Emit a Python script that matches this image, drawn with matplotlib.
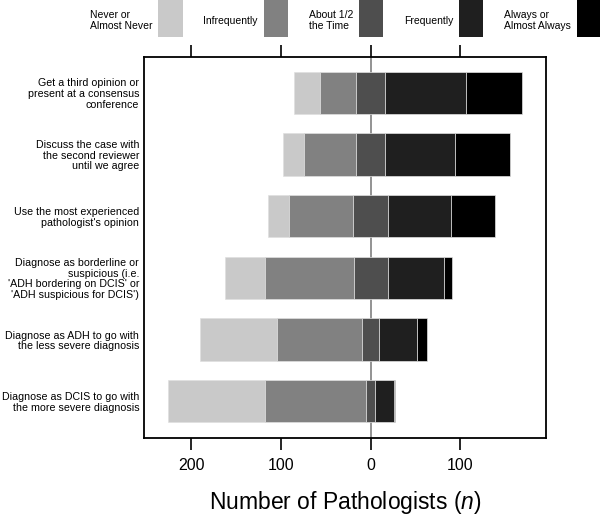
import matplotlib
matplotlib.use('Agg')
import matplotlib.pyplot as plt
import numpy as np
from matplotlib.patches import Patch

plt.rcParams['font.family'] = ['Liberation Sans', 'DejaVu Sans']
plt.rcParams['mathtext.fontset'] = 'custom'
plt.rcParams['mathtext.it'] = 'Liberation Sans:italic'
plt.rcParams['mathtext.rm'] = 'Liberation Sans'

# categories, top to bottom
strategies = [
  'Get a third opinion or\npresent at a consensus\nconference',
  'Discuss the case with\nthe second reviewer\nuntil we agree',
  "Use the most experienced\npathologist's opinion",
  "Diagnose as borderline or\nsuspicious (i.e.\n'ADH bordering on DCIS' or\n'ADH suspicious for DCIS')",
  'Diagnose as ADH to go with\nthe less severe diagnosis',
  'Diagnose as DCIS to go with\nthe more severe diagnosis',
]
responses = ['Never or\nAlmost Never', 'Infrequently', 'About 1/2\nthe Time', 'Frequently', 'Always or\nAlmost Always']
colors = ['#c9c9c9', '#818181', '#4e4e4e', '#1f1f1f', '#000000']

# number of pathologists per response
never = [29, 24, 24, 45, 86, 109]
infrequently = [40, 58, 71, 99, 95, 112]
half = [32, 32, 39, 38, 20, 11]
frequently = [91, 78, 70, 63, 42, 21]
always = [62, 62, 50, 9, 11, 1]

tick_pos = [-200, -100, 0, 100]
tick_lab = ['200', '100', '0', '100']

counts = np.array([never, infrequently, half, frequently, always], dtype=float)
n = len(strategies)
y = np.arange(n)[::-1]

fig = plt.figure(figsize=(6.0, 5.15), dpi=100, facecolor='w')
ax = fig.add_axes([0.24, 0.149, 0.67, 0.7404])

# diverging: centre of the "About 1/2" segment sits on zero
left = -(counts[0] + counts[1] + counts[2] / 2)
for k in range(5):
  ax.barh(y, counts[k], left=left, height=0.686, color=colors[k],
          edgecolor='#e0e0e0', linewidth=0.5, zorder=2)
  left = left + counts[k]

ax.axvline(0, color='#8a8a8a', linewidth=1.3, zorder=1)

ax.set_xlim(-253, 196)
ax.set_ylim(-0.60, n - 1 + 0.58)
ax.set_yticks(y)
ax.set_yticklabels(strategies, fontsize=7.7, linespacing=1.08)
ax.tick_params(axis='y', length=0, pad=3.5)
ax.set_xticks(tick_pos)
ax.set_xticklabels(tick_lab, fontsize=11.5)
ax.tick_params(axis='x', direction='out', length=8.5, width=1.2, top=True, pad=6)
for s in ax.spines.values():
  s.set_linewidth(1.3)
ax.set_xlabel(r'Number of Pathologists ($n$)', fontsize=16.5, labelpad=11)

handles = [Patch(facecolor=c, edgecolor='none') for c in colors]
leg = fig.legend(handles, responses, loc='upper left', bbox_to_anchor=(90 / 600, 1.0),
                 ncol=5, frameon=False, markerfirst=False, fontsize=7.5,
                 handlelength=2.35, handleheight=5.15, handletextpad=0.55,
                 columnspacing=1.98, borderpad=0, borderaxespad=0)
for t in leg.get_texts():
  t.set_linespacing(1.15)
  t.set_position((0, -3))

plt.savefig('out.png', dpi=100)
